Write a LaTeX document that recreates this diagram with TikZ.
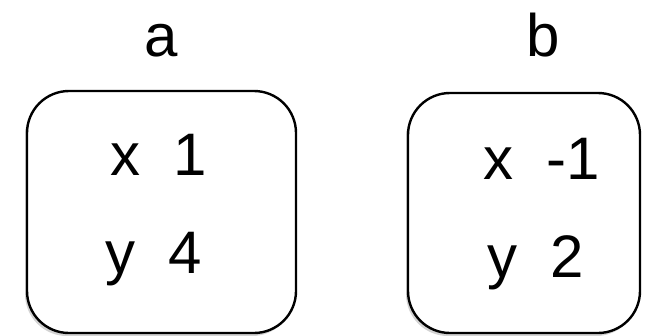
\documentclass[tikz,border=0pt]{standalone}
\usepackage{fontspec}
\setmainfont{Liberation Sans}
\usetikzlibrary{positioning,shadows}

\begin{document}
\begin{tikzpicture}[x=1pt,y=-1pt,
    record/.style={draw, line width=2.4pt, rounded corners=42pt, fill=white,
        minimum width=269pt, minimum height=242pt, inner sep=0pt,
        drop shadow={opacity=0.35, shadow xshift=-2pt, shadow yshift=-3pt}},
    field/.style={anchor=base west, inner sep=0pt, font=\fontsize{60}{72}\selectfont},
    title/.style={anchor=base, inner sep=0pt, font=\fontsize{60}{72}\selectfont}]
    \useasboundingbox (0,0) rectangle (656,335);

    % Draw the two records
    \node[record] (boxa) at (161.5,212) {};
    \node[record, minimum width=232pt, minimum height=240pt] (boxb) at (524,213) {};

    % Label the records
    \node[title] (namea) at (161,56) {a};
    \node[title] (nameb) at (543,56) {b};

    % Fields of a
    \node[field] (ax) at (110,175) {x\ \ 1};
    \node[field] (ay) at (105,273) {y\ \ 4};

    % Fields of b
    \node[field] (bx) at (483,179) {x\ \ -1};
    \node[field] (by) at (487,277) {y\ \ 2};

\end{tikzpicture}
\end{document}
